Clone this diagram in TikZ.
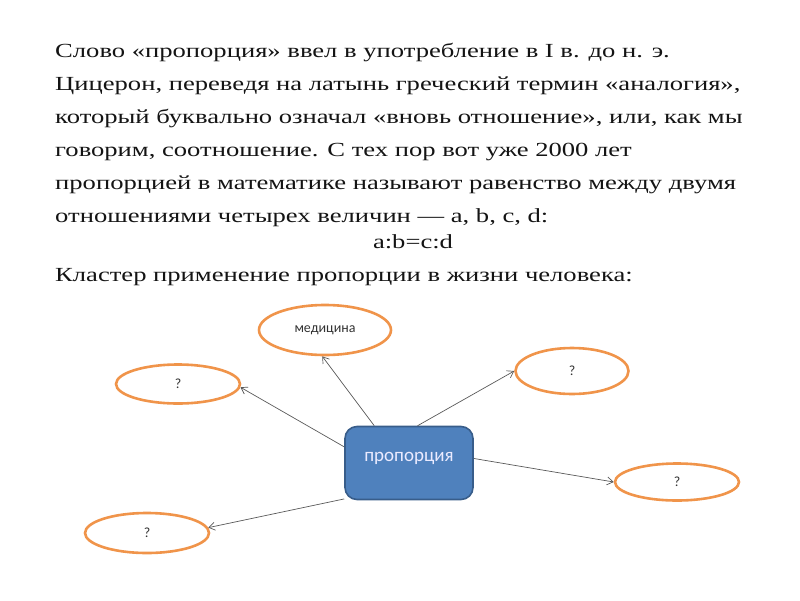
\documentclass[tikz,border=0pt]{standalone}
\usepackage{fontspec}
\setmainfont[FakeStretch=1.33]{Liberation Serif}
\newfontfamily\calibri{Carlito}
\usepackage{tikz}
\usetikzlibrary{shapes.geometric, arrows.meta}

\definecolor{kluborange}{RGB}{240,148,74}
\definecolor{klubblue}{RGB}{79,129,189}
\definecolor{klubedge}{RGB}{56,93,138}
\definecolor{klubtext}{RGB}{20,20,20}

\begin{document}
\begin{tikzpicture}[x=1pt, y=-1pt,
    para/.style={font=\fontsize{20}{33}\selectfont, text=klubtext, inner sep=0pt, align=left},
    idea/.style={ellipse, draw=kluborange, line width=2.6pt, fill=white,
        font=\calibri\fontsize{14}{16}\selectfont, text=black!80, inner sep=0pt},
    hub/.style={rectangle, rounded corners=12pt, draw=klubedge, line width=1.6pt,
        fill=klubblue, text=blue!8!white, font=\calibri\fontsize{19}{22}\selectfont,
        minimum width=128pt, minimum height=73pt, text height=9pt, text depth=12.5pt},
    link/.style={-{Straight Barb[length=6pt, width=8pt]}, draw=black!65, line width=0.7pt}]

    % рамка слайда
    \useasboundingbox (0,0) rectangle (800,600);

    % текст
    \node[para, anchor=base west] (intro) at (55,222) {Слово «пропорция» ввел в употребление в I в. до н. э.\\
        Цицерон, переведя на латынь греческий термин «аналогия»,\\
        который буквально означал «вновь отношение», или, как мы\\
        говорим, соотношение. С тех пор вот уже 2000 лет\\
        пропорцией в математике называют равенство между двумя\\
        отношениями четырех величин — a, b, c, d:};
    \node[para, anchor=base] (formula) at (413,248) {a:b=c:d};
    \node[para, anchor=base west] (cluster) at (55,281) {Кластер применение пропорции в жизни человека:};

    % кластер
    \node[hub] (prop) at (409,463) {пропорция};
    \node[idea, minimum width=132pt, minimum height=50pt] (med) at (325,330) {медицина};
    \node[idea, minimum width=124pt, minimum height=39pt] (left) at (178,384) {?};
    \node[idea, minimum width=124pt, minimum height=40pt] (low) at (147,533) {?};
    \node[idea, minimum width=113pt, minimum height=46pt] (up) at (572,371) {?};
    \node[idea, minimum width=124pt, minimum height=37pt] (right) at (677,482) {?};

    % стрелки
    \draw[link] (prop.133) -- (med.264);
    \draw[link] (prop.166) -- (left.357);
    \draw[link] (prop.209) -- (low.5);
    \draw[link] (prop.77) -- (up.180);
    \draw[link] (prop.4) -- (right.180);
\end{tikzpicture}
\end{document}
